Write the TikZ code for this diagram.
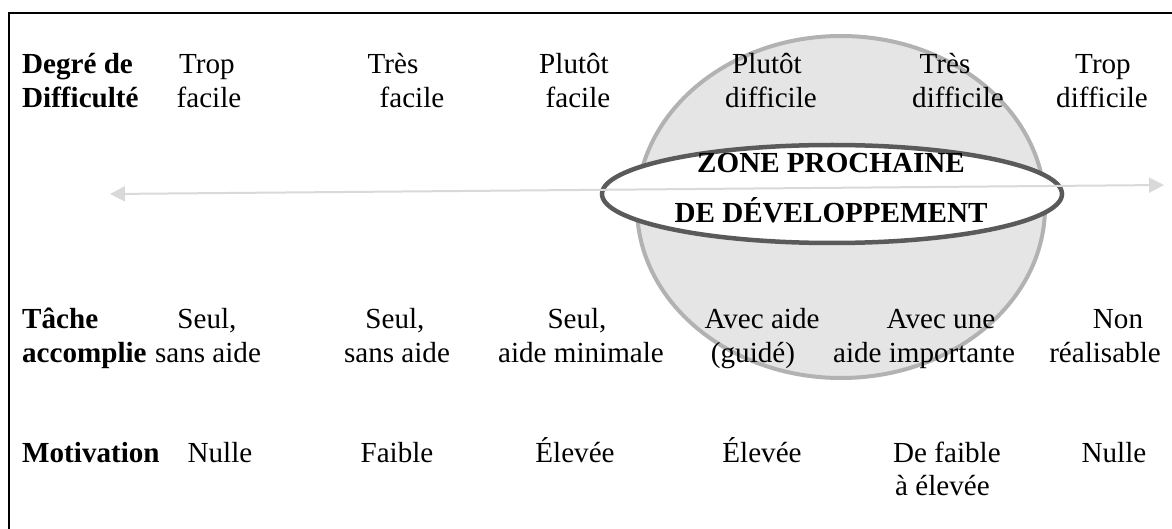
\documentclass[tikz,border=0pt]{standalone}
\usepackage{fontspec}
\setmainfont{Liberation Serif}
\usetikzlibrary{arrows.meta,shapes.geometric}
\definecolor{zonefill}{HTML}{E5E5E5}
\definecolor{zoneline}{HTML}{B2B2B2}
\definecolor{ringline}{HTML}{5A5A5A}
\definecolor{axisline}{HTML}{D9D9D9}
\begin{document}
\begin{tikzpicture}[x=1pt,y=-1pt,
  lbl/.style={font=\fontsize{29.1}{34}\selectfont, inner sep=0pt, anchor=base},
  lblw/.style={lbl, anchor=base west},
  hdr/.style={font=\fontsize{29.1}{34}\selectfont\bfseries, inner sep=0pt, anchor=base west},
  zonetxt/.style={font=\fontsize{29.1}{34}\selectfont\bfseries, inner sep=0pt, anchor=base},
  frameline/.style={line width=2pt, black},
  axis/.style={line width=2pt, axisline, {Triangle[length=15pt,width=15pt]}-{Triangle[length=15pt,width=15pt]}}
]
\useasboundingbox (0,0) rectangle (1172,529);
% frame
\coordinate (fbl) at (9,529);
\coordinate (ftl) at (9,13);
\coordinate (ftr) at (1172,13);
\draw[frameline] (fbl) -- (ftl) -- (ftr);
% zone
\node[ellipse, draw=zoneline, fill=zonefill, line width=4pt, minimum width=408pt, minimum height=342pt, inner sep=0pt] (zpd) at (841,207) {};
\node[ellipse, draw=ringline, fill=white, line width=4.5pt, minimum width=460pt, minimum height=98pt, inner sep=0pt] (ring) at (832,194) {};
% axis
\coordinate (axl) at (110,194);
\coordinate (axr) at (1164,185);
\draw[axis] (axl) -- (axr);
\node[zonetxt] (z1) at (831,173) {ZONE PROCHAINE};
\node[zonetxt] (z2) at (831,223) {DE DÉVELOPPEMENT};
% headers
\node[hdr] (h1a) at (22,74) {Degré de};
\node[hdr] (h1b) at (22,108) {Difficulté};
\node[hdr] (h2a) at (22,328) {Tâche};
\node[hdr] (h2b) at (22,362) {accomplie};
\node[hdr] (h3a) at (22,462) {Motivation};
% row 1
\node[lbl] (r1c1a) at (207,74) {Trop};
\node[lbl] (r1c1b) at (209,108) {facile};
\node[lbl] (r1c2a) at (393,74) {Très};
\node[lbl] (r1c2b) at (412,108) {facile};
\node[lbl] (r1c3a) at (574,74) {Plutôt};
\node[lbl] (r1c3b) at (578,108) {facile};
\node[lbl] (r1c4a) at (767,74) {Plutôt};
\node[lbl] (r1c4b) at (771,108) {difficile};
\node[lbl] (r1c5a) at (945,74) {Très};
\node[lbl] (r1c5b) at (958,108) {difficile};
\node[lbl] (r1c6a) at (1103,74) {Trop};
\node[lbl] (r1c6b) at (1102,108) {difficile};
% row 2
\node[lbl] (r2c1a) at (207,328) {Seul,};
\node[lbl] (r2c1b) at (208,362) {sans aide};
\node[lbl] (r2c2a) at (395,328) {Seul,};
\node[lbl] (r2c2b) at (397,362) {sans aide};
\node[lbl] (r2c3a) at (577,328) {Seul,};
\node[lbl] (r2c3b) at (581,362) {aide minimale};
\node[lbl] (r2c4a) at (762,328) {Avec aide};
\node[lbl] (r2c4b) at (753,362) {(guidé)};
\node[lbl] (r2c5a) at (941,328) {Avec une};
\node[lbl] (r2c5b) at (924,362) {aide importante};
\node[lbl] (r2c6a) at (1118,328) {Non};
\node[lbl] (r2c6b) at (1105,362) {réalisable};
% row 3
\node[lbl] (r3c1) at (220,462) {Nulle};
\node[lbl] (r3c2) at (397,462) {Faible};
\node[lbl] (r3c3) at (575,462) {Élevée};
\node[lbl] (r3c4) at (762,462) {Élevée};
\node[lblw] (r3c5a) at (893,462) {De faible};
\node[lblw] (r3c5b) at (895,495) {à élevée};
\node[lbl] (r3c6) at (1114,462) {Nulle};
\end{tikzpicture}
\end{document}
